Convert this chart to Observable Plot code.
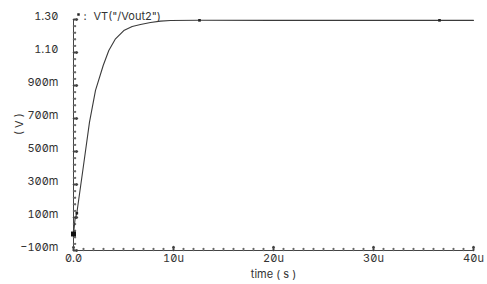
<!DOCTYPE html>
<html>
<head>
<meta charset="utf-8">
<script src="https://cdn.jsdelivr.net/npm/d3@7"></script>
<script src="https://cdn.jsdelivr.net/npm/@observablehq/plot@0.6"></script>
<style>
  html, body { margin: 0; padding: 0; background: #fff; }
  #chart svg { display: block; font-family: Inter, "Liberation Sans", sans-serif; font-feature-settings: "zero" 1; font-variant-numeric: slashed-zero; }
</style>
</head>
<body>
<div id="chart"></div>
<script>
// ---- data (time in microseconds, voltage in volts) ----
const timeUs = [0, 0.15, 0.33, 0.93, 1.6, 2.2, 2.97, 3.53, 4.2, 5.03, 5.87, 6.7, 7.7, 8.7, 9.7, 12.6, 20, 30, 36.6, 40];
const vout   = [0, 0.088, 0.126, 0.385, 0.678, 0.870, 1.021, 1.112, 1.183, 1.233, 1.258, 1.270, 1.282, 1.290, 1.294, 1.295, 1.295, 1.295, 1.295, 1.295];
const startMarkerT = [0];
const markerT = [0.33, 12.6, 36.6];

const xDomain = [0, 40];
const yDomain = [-0.1, 1.3];
const xTicks = [0, 10, 20, 30, 40];
const xTickLabels = ["0.0", "10u", "20u", "30u", "40u"];
const xMinorStep = 1;
const yTicks = [-0.1, 0.1, 0.3, 0.5, 0.7, 0.9, 1.1, 1.3];
const yTickLabels = ["\u2212100m", "100m", "300m", "500m", "700m", "900m", "1.10", "1.30"];
const yMinorStep = 0.04;
const xLabel = "time ( s )";
const yLabel = "( V )";
const seriesName = "VT(\"/Vout2\")";

const data = timeUs.map((t, i) => ({t, v: vout[i]}));
const valueAt = t => data.find(d => d.t === t).v;
const xMinor = d3.range(xDomain[0], xDomain[1] + 1e-9, xMinorStep);
const yMinor = d3.range(0, Math.round((yDomain[1] - yDomain[0]) / yMinorStep) + 1).map(i => yDomain[0] + i * yMinorStep);

const ink = "#333";
const chart = Plot.plot({
  width: 487,
  height: 284,
  marginLeft: 73,
  marginRight: 14,
  marginTop: 19,
  marginBottom: 34,
  style: {fontSize: "11px", color: ink, background: "#fff"},
  x: {domain: xDomain},
  y: {domain: yDomain},
  marks: [
    // axis lines
    Plot.ruleX([xDomain[0]], {stroke: "#444"}),
    Plot.ruleY([yDomain[0]], {stroke: "#444"}),
    // minor ticks (inward)
    Plot.vector(xMinor, {x: d => d, y: () => yDomain[0], length: 2, rotate: 0, anchor: "start", stroke: "#666"}),
    Plot.vector(yMinor, {x: () => xDomain[0], y: d => d, length: 2, rotate: 90, anchor: "start", stroke: "#666"}),
    // major ticks
    Plot.vector(xTicks, {x: d => d, y: () => yDomain[0], length: 4, rotate: 0, anchor: "start", stroke: "#444"}),
    Plot.vector(yTicks, {x: () => xDomain[0], y: d => d, length: 4, rotate: 90, anchor: "start", stroke: "#444"}),
    // tick labels
    Plot.axisX({ticks: xTicks, tickFormat: (d, i) => xTickLabels[xTicks.indexOf(d)], tickSize: 0, tickPadding: 4, label: null, fill: ink}),
    Plot.axisY({ticks: yTicks, tickFormat: d => yTickLabels[yTicks.indexOf(d)], tickSize: 0, tickPadding: 15, dy: -3, label: null, fill: ink}),
    // axis titles
    Plot.text([xLabel], {frameAnchor: "bottom", dy: 20, lineAnchor: "top", fill: ink}),
    Plot.text([yLabel], {frameAnchor: "left", dx: -54, rotate: -90, fill: ink}),
    // legend
    Plot.dot([seriesName], {frameAnchor: "top-left", dx: 5, dy: -5, symbol: "square", r: 1.4, fill: "#222"}),
    Plot.text([":"], {frameAnchor: "top-left", dx: 10, dy: -7, fill: ink}),
    Plot.text([seriesName], {frameAnchor: "top-left", dx: 20, dy: -7, textAnchor: "start", fill: ink}),
    // curve
    Plot.line(data, {x: "t", y: "v", stroke: "#3a3a3a", strokeWidth: 1.1}),
    Plot.dot(startMarkerT, {x: d => d, y: d => valueAt(d), symbol: "square", r: 2.8, fill: "#111"}),
    Plot.dot(markerT, {x: d => d, y: d => valueAt(d), symbol: "square", r: 1.5, fill: "#222"})
  ]
});
document.getElementById("chart").append(chart);
</script>
</body>
</html>
